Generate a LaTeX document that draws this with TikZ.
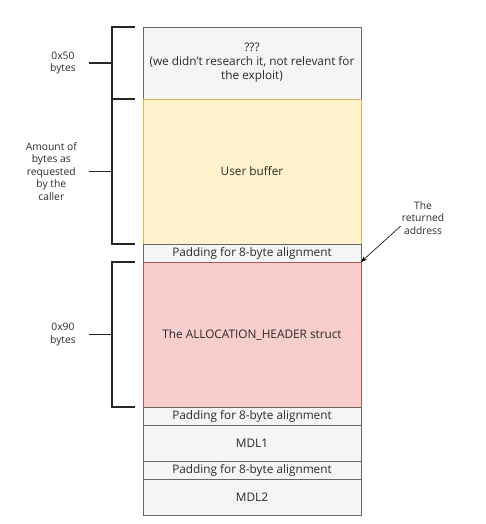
\documentclass[tikz,border=0pt]{standalone}
\usepackage{fontspec}
\setmainfont{Open Sans}
\usepackage{xcolor}
\usetikzlibrary{positioning,arrows.meta}
\definecolor{grayfill}{HTML}{F5F5F5}
\definecolor{graydraw}{HTML}{666666}
\definecolor{userfill}{HTML}{FFF2CC}
\definecolor{userdraw}{HTML}{D6B656}
\definecolor{hdrfill}{HTML}{F8CECC}
\definecolor{hdrdraw}{HTML}{B85450}
\definecolor{ink}{HTML}{2A2A2A}

\begin{document}
\begin{tikzpicture}[x=1pt, y=-1pt,
    cell/.style={draw=graydraw, fill=grayfill, line width=0.8pt, outer sep=0pt,
                 inner sep=0pt, minimum width=218pt, align=center, text=ink,
                 font=\fontsize{11.8}{14}\selectfont},
    pad/.style={cell, minimum height=18pt},
    lbl/.style={align=center, text=ink, inner sep=1pt,
                font=\fontsize{10.3}{12.6}\selectfont},
    brk/.style={line width=1.3pt, black!85},
    ptr/.style={-{Stealth[length=6pt,width=4.5pt]}, line width=0.6pt, black},
  ]
    \useasboundingbox (0,0) rectangle (486,524);
    % the memory layout, top to bottom
    \node[cell, anchor=north west, minimum height=72pt] (top) at (143,27)
       {???\\(we didn't research it, not relevant for\\the exploit)};
    \node[cell, below=0pt of top, minimum height=145pt, draw=userdraw, fill=userfill] (user)
       {User buffer};
    \node[pad, below=0pt of user] (pad1) {Padding for 8-byte alignment};
    \node[cell, below=0pt of pad1, minimum height=145pt, draw=hdrdraw, fill=hdrfill] (hdr)
       {The ALLOCATION\_HEADER struct};
    \node[pad, below=0pt of hdr] (pad2) {Padding for 8-byte alignment};
    \node[cell, below=0pt of pad2, minimum height=36pt] (mdl1) {MDL1};
    \node[pad, below=0pt of mdl1] (pad3) {Padding for 8-byte alignment};
    \node[cell, below=0pt of pad3, minimum height=36pt] (mdl2) {MDL2};
    % size brackets on the left
    \draw[brk] ([xshift=-8pt]top.north west) -- ++(-23,0) |- ([xshift=-8pt]top.south west);
    \draw[brk] ([xshift=-31pt]top.west) -- ++(-23,0) coordinate (t1);
    \draw[brk] ([xshift=-8pt]user.north west) -- ++(-23,0) |- ([xshift=-8pt]user.south west);
    \draw[brk] ([xshift=-31pt]user.west) -- ++(-23,0) coordinate (t2);
    \draw[brk] ([xshift=-8pt]hdr.north west) -- ++(-23,0) |- ([xshift=-8pt]hdr.south west);
    \draw[brk] ([xshift=-31pt]hdr.west) -- ++(-23,0) coordinate (t3);
    \node[lbl, left=12pt of t1] (sz50) {0x50\\bytes};
    \node[lbl, left=11pt of t2] (szuser) {Amount of\\bytes as\\requested\\by the\\caller};
    \node[lbl, left=12pt of t3] (sz90) {0x90\\bytes};
    % where the allocator's pointer lands
    \node[lbl] (ret) at (423,218) {The\\returned\\address};
    \draw[ptr] (ret.200) -- (hdr.north east);
\end{tikzpicture}
\end{document}
